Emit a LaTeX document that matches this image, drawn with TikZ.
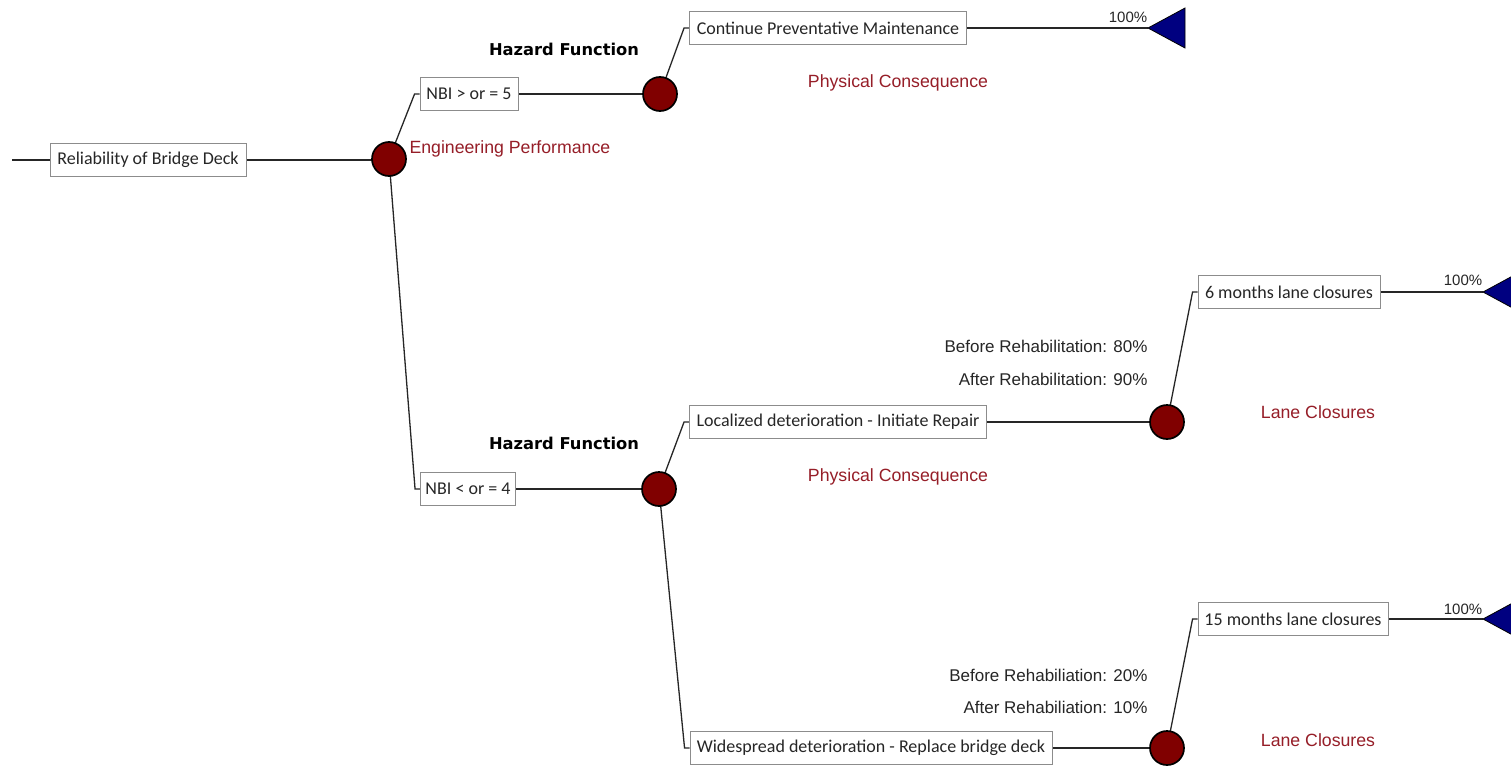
\documentclass[tikz,border=0pt]{standalone}
\usepackage{fontspec}
\setmainfont{Carlito}
\newfontfamily\lblfont{Liberation Sans}
\newfontfamily\hazfont{DejaVu Sans}
\usetikzlibrary{backgrounds}
\definecolor{chancered}{RGB}{128,0,0}
\definecolor{labelred}{RGB}{150,30,40}
\definecolor{termblue}{RGB}{0,0,128}
\definecolor{boxgray}{RGB}{140,140,140}
\tikzset{
  box/.style={draw=boxgray, line width=0.9pt, fill=white, minimum height=33pt, inner xsep=4pt, font=\fontsize{18}{20}\selectfont, text=black!85},
  chance/.style={circle, draw=black, line width=1.7pt, fill=chancered, minimum size=34pt, inner sep=0pt},
  termtri/.style={draw=black, line width=0.8pt, fill=termblue},
  conn/.style={draw=black!85, line width=1.3pt},
  redlbl/.style={text=labelred, font=\lblfont\fontsize{17.7}{20}\selectfont},
  hazlbl/.style={font=\hazfont\bfseries\fontsize{16.3}{18}\selectfont},
  problbl/.style={font=\lblfont\fontsize{17}{19}\selectfont, anchor=east, text=black!85},
  pct/.style={font=\lblfont\fontsize{15}{17}\selectfont, text=black!85}
}
\begin{document}
\begin{tikzpicture}[x=1pt,y=-1pt]
\useasboundingbox (0,0) rectangle (1511,768);
\clip (0,0) rectangle (1511,768);

% nodes
\coordinate (start) at (12,160);
\node[box, minimum width=196pt] (root) at (148,160) {Reliability of Bridge Deck};
\node[chance] (c1) at (389,159) {};
\node[box, minimum width=98pt] (nbi5) at (469,94) {NBI > or = 5};
\node[chance] (c2) at (660,94) {};
\node[box, minimum width=277pt] (cpm) at (828,28) {Continue Preventative Maintenance};
\coordinate (tip1) at (1148,28);

\node[box, minimum width=95pt] (nbi4) at (468,489) {NBI < or = 4};
\node[chance] (c3) at (659,489) {};
\node[box, minimum width=297pt] (loc) at (838,422) {Localized deterioration - Initiate Repair};
\node[chance] (c4) at (1167,422) {};
\node[box, minimum width=182pt] (six) at (1289,292) {6 months lane closures};
\coordinate (tip2) at (1483,292);

\node[box, minimum width=362pt] (wide) at (871,748) {Widespread deterioration - Replace bridge deck};
\node[chance] (c5) at (1167,748) {};
\node[box, minimum width=190pt] (fifteen) at (1293,619) {15 months lane closures};
\coordinate (tip3) at (1483,619);

% connectors
\begin{scope}[on background layer]
\fill[white] (0,0) rectangle (1511,768);
\draw[conn] (start) -- (root.west);
\draw[conn] (root.east) -- (root.east -| c1.center);
\draw[conn] (c1.center) -- ([xshift=-5pt]nbi5.west) -- (nbi5.west);
\draw[conn] (nbi5.east) -- (c2.center);
\draw[conn] (c2.center) -- ([xshift=-5pt]cpm.west) -- (cpm.west);
\draw[conn] (cpm.east) -- (tip1);
\draw[conn] (c1.center) -- ([xshift=-5pt]nbi4.west) -- (nbi4.west);
\draw[conn] (nbi4.east) -- (c3.center);
\draw[conn] (c3.center) -- ([xshift=-5pt]loc.west) -- (loc.west);
\draw[conn] (loc.east) -- (c4.center);
\draw[conn] (c4.center) -- ([xshift=-5pt]six.west) -- (six.west);
\draw[conn] (six.east) -- (tip2);
\draw[conn] (c3.center) -- ([xshift=-5pt]wide.west) -- (wide.west);
\draw[conn] (wide.east) -- (c5.center);
\draw[conn] (c5.center) -- ([xshift=-5pt]fifteen.west) -- (fifteen.west);
\draw[conn] (fifteen.east) -- (tip3);
\end{scope}

% terminal triangles
\draw[termtri] (tip1) -- ++(37,-20) -- ++(0,40) -- cycle;
\draw[termtri] (tip2) -- ++(37,-20) -- ++(0,40) -- cycle;
\draw[termtri] (tip3) -- ++(37,-20) -- ++(0,40) -- cycle;

% labels
\node[hazlbl] (hz1) at (564,49) {Hazard Function};
\node[hazlbl] (hz2) at (564,443) {Hazard Function};
\node[redlbl, anchor=west] (eng) at (406,149) {Engineering Performance};
\node[redlbl] (pc1) at (898,83) {Physical Consequence};
\node[redlbl] (pc2) at (898,477) {Physical Consequence};
\node[redlbl] (lc1) at (1318,412) {Lane Closures};
\node[redlbl] (lc2) at (1318,740) {Lane Closures};
\node[pct] (p1) at (1128,17) {100\%};
\node[pct] (p2) at (1463,280) {100\%};
\node[pct] (p3) at (1463,609) {100\%};
\node[problbl] (b1) at (1151,346) {Before Rehabilitation: 80\%};
\node[problbl] (a1) at (1151,379) {After Rehabilitation: 90\%};
\node[problbl] (b2) at (1151,675) {Before Rehabiliation: 20\%};
\node[problbl] (a2) at (1151,707) {After Rehabiliation: 10\%};
\end{tikzpicture}
\end{document}
